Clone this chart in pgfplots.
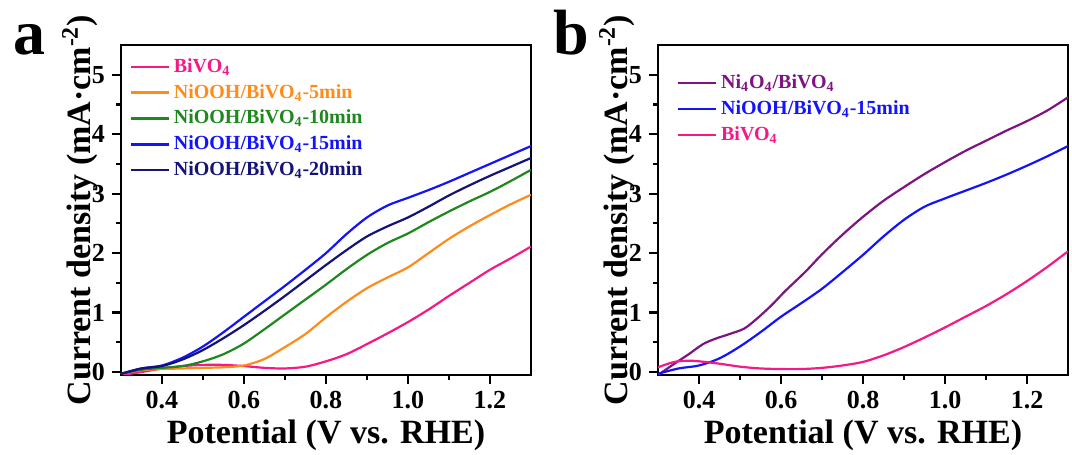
\documentclass[border=0pt]{standalone}
\usepackage{fontspec}
\setmainfont{Liberation Serif}
\usepackage{pgfplots}
\pgfplotsset{compat=1.18}

\definecolor{bipink}{RGB}{245,25,135}
\definecolor{niorange}{RGB}{255,140,26}
\definecolor{nigreen}{RGB}{30,135,30}
\definecolor{niblue}{RGB}{20,20,250}
\definecolor{ninavy}{RGB}{20,20,120}
\definecolor{nipurple}{RGB}{125,20,130}

\pgfplotsset{
  lsv/.style={
    scale only axis, width=205pt, height=165pt,
    xmin=0.3, xmax=1.3, ymin=-0.05, ymax=5.5,
    xtick={0.4,0.6,...,1.21}, ytick={0,1,...,5},
    minor x tick num=1, minor y tick num=1,
    tick pos=left, tick align=outside,
    major tick length=4.5pt, minor tick length=2.5pt,
    every tick/.style={black, line width=1.1pt},
    axis line style={line width=1.3pt},
    /pgf/number format/assume math mode=true,
    tick label style={font=\fontsize{13}{14}\selectfont\bfseries},
    xticklabel style={/pgf/number format/.cd, fixed, fixed zerofill, precision=1},
    label style={font=\fontsize{17}{20}\selectfont\bfseries},
    xlabel={Potential (V vs. RHE)},
    ylabel={Current density (mA·cm\textsuperscript{-2})},
    xlabel style={at={(axis description cs:0.5,-0.182)}, anchor=center},
    ylabel style={at={(axis description cs:-0.1,0.5)}, anchor=center},
    legend cell align=left,
    legend image code/.code={\draw[#1, line width=1.2pt] (0pt,0pt) -- (19pt,0pt);},
    legend style={draw=none, fill=none, anchor=north west,
      font=\fontsize{10}{11}\selectfont\bfseries, row sep=0.5pt},
    every axis plot/.append style={line width=1.1pt, smooth, no marks},
  }
}

\begin{document}
\begin{tikzpicture}
\path[use as bounding box] (-60.5pt,-40pt) rectangle (475.5pt,187.5pt);

% panel a
\begin{axis}[lsv, name=axa, legend style={at={(axis description cs:0.005,0.985)}}]
\addplot[bipink] coordinates {
(0.30,-0.05) (0.35,0.00) (0.40,0.06) (0.45,0.10) (0.50,0.12) (0.55,0.12)
(0.60,0.10) (0.65,0.07) (0.70,0.06) (0.75,0.09) (0.80,0.18) (0.85,0.30)
(0.90,0.47) (0.95,0.65) (1.00,0.84) (1.05,1.05) (1.10,1.28) (1.15,1.50)
(1.20,1.72) (1.25,1.91) (1.30,2.11)};
\addlegendentry{\textcolor{bipink}{BiVO\textsubscript{4}}}
\addplot[niorange] coordinates {
(0.30,-0.03) (0.35,0.03) (0.40,0.05) (0.45,0.06) (0.50,0.07) (0.55,0.08)
(0.60,0.11) (0.65,0.22) (0.70,0.42) (0.75,0.64) (0.80,0.92) (0.85,1.18)
(0.90,1.41) (0.95,1.59) (1.00,1.76) (1.05,2.00) (1.10,2.24) (1.15,2.45)
(1.20,2.64) (1.25,2.82) (1.30,2.98)};
\addlegendentry{\textcolor{niorange}{NiOOH/BiVO\textsubscript{4}-5min}}
\addplot[nigreen] coordinates {
(0.30,-0.03) (0.35,0.04) (0.40,0.07) (0.45,0.10) (0.50,0.18) (0.55,0.30)
(0.60,0.48) (0.65,0.72) (0.70,0.97) (0.75,1.22) (0.80,1.47) (0.85,1.73)
(0.90,1.97) (0.95,2.17) (1.00,2.33) (1.05,2.52) (1.10,2.70) (1.15,2.87)
(1.20,3.03) (1.25,3.21) (1.30,3.40)};
\addlegendentry{\textcolor{nigreen}{NiOOH/BiVO\textsubscript{4}-10min}}
\addplot[niblue] coordinates {
(0.30,-0.03) (0.35,0.06) (0.40,0.11) (0.45,0.24) (0.50,0.43) (0.55,0.67)
(0.60,0.93) (0.65,1.19) (0.70,1.45) (0.75,1.72) (0.80,2.00) (0.85,2.32)
(0.90,2.60) (0.95,2.80) (1.00,2.93) (1.05,3.06) (1.10,3.20) (1.15,3.35)
(1.20,3.50) (1.25,3.65) (1.30,3.80)};
\addlegendentry{\textcolor{niblue}{NiOOH/BiVO\textsubscript{4}-15min}}
\addplot[ninavy] coordinates {
(0.30,-0.03) (0.35,0.06) (0.40,0.10) (0.45,0.21) (0.50,0.37) (0.55,0.57)
(0.60,0.79) (0.65,1.03) (0.70,1.28) (0.75,1.54) (0.80,1.80) (0.85,2.05)
(0.90,2.28) (0.95,2.45) (1.00,2.60) (1.05,2.78) (1.10,2.97) (1.15,3.14)
(1.20,3.30) (1.25,3.45) (1.30,3.60)};
\addlegendentry{\textcolor{ninavy}{NiOOH/BiVO\textsubscript{4}-20min}}
\end{axis}

% panel b
\begin{axis}[lsv, name=axb, at={(268.5pt,0pt)}, legend style={at={(axis description cs:0.03,0.935)}}]
\addplot[nipurple] coordinates {
(0.30,-0.05) (0.34,0.14) (0.375,0.30) (0.41,0.47) (0.44,0.56) (0.475,0.64)
(0.51,0.73) (0.54,0.89) (0.575,1.11) (0.61,1.36) (0.66,1.69) (0.70,1.98)
(0.75,2.31) (0.80,2.61) (0.85,2.88) (0.90,3.11) (0.95,3.33) (1.00,3.53)
(1.05,3.72) (1.10,3.89) (1.15,4.06) (1.20,4.22) (1.25,4.40) (1.30,4.62)};
\addlegendentry{\textcolor{nipurple}{Ni\textsubscript{4}O\textsubscript{4}/BiVO\textsubscript{4}}}
\addplot[niblue] coordinates {
(0.30,-0.03) (0.35,0.06) (0.40,0.11) (0.45,0.23) (0.50,0.43) (0.55,0.67)
(0.60,0.93) (0.65,1.16) (0.70,1.40) (0.75,1.68) (0.80,1.97) (0.85,2.28)
(0.90,2.56) (0.95,2.78) (1.00,2.92) (1.05,3.05) (1.10,3.18) (1.15,3.32)
(1.20,3.47) (1.25,3.63) (1.30,3.80)};
\addlegendentry{\textcolor{niblue}{NiOOH/BiVO\textsubscript{4}-15min}}
\addplot[bipink] coordinates {
(0.30,0.08) (0.34,0.17) (0.375,0.19) (0.40,0.18) (0.45,0.14) (0.50,0.09)
(0.55,0.06) (0.60,0.05) (0.65,0.05) (0.70,0.07) (0.75,0.11) (0.80,0.17)
(0.85,0.28) (0.90,0.42) (0.95,0.58) (1.00,0.75) (1.05,0.93) (1.10,1.11)
(1.15,1.31) (1.20,1.53) (1.25,1.77) (1.30,2.03)};
\addlegendentry{\textcolor{bipink}{BiVO\textsubscript{4}}}
\end{axis}

\node[anchor=base west, font=\fontsize{32}{34}\selectfont\bfseries]
  at ([xshift=-57.5pt,yshift=-5pt]axa.north west) {a};
\node[anchor=base west, font=\fontsize{32}{34}\selectfont\bfseries]
  at ([xshift=-56pt,yshift=-5pt]axb.north west) {b};
\end{tikzpicture}
\end{document}
